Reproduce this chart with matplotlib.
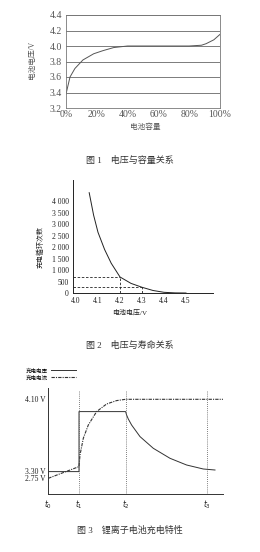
import matplotlib
matplotlib.use('Agg')
import matplotlib.pyplot as plt

plt.rcParams['font.family'] = ['Liberation Serif', 'Noto Sans CJK SC', 'DejaVu Sans']

# Fig 1: voltage vs capacity
cap_pct = [0, 2.6, 5.8, 11, 18, 24, 31, 40, 60, 80, 88, 91, 96, 100]
cap_volt = [3.38, 3.60, 3.71, 3.82, 3.90, 3.94, 3.98, 4.00, 4.00, 4.00, 4.01, 4.03, 4.08, 4.15]
cap_yticks = [3.2, 3.4, 3.6, 3.8, 4.0, 4.2, 4.4]
cap_xticks = [0, 20, 40, 60, 80, 100]

# Fig 2: voltage vs cycle life
life_volt = [4.06, 4.08, 4.10, 4.13, 4.16, 4.20, 4.25, 4.30, 4.35, 4.40, 4.45, 4.50]
life_cycles = [4380, 3400, 2650, 1900, 1300, 700, 420, 250, 110, 30, 5, 0]
life_yticks = [0, 500, 1000, 1500, 2000, 2500, 3000, 3500, 4000]
life_xticks = [4.0, 4.1, 4.2, 4.3, 4.4, 4.5]
marks = [(4.2, 700), (4.3, 250)]

# Fig 3: charging schematic (arbitrary units)
t_pos = [0, 30.7, 77.3, 159]
t_labels = ['$t_0$', '$t_1$', '$t_2$', '$t_3$']
v_pos = [16, 23.5, 95]
v_labels = ['2.75 V', '3.30 V', '4.10 V']
sol_x = [0, 30.7, 30.7, 77.3, 78.3, 80, 83.3, 91.7, 105, 121.7, 138.3, 155, 166.7]
sol_y = [22.7, 22.7, 82.7, 82.7, 79.3, 75.3, 69.3, 57.7, 46, 36, 29.3, 25.3, 24.3]
dd_x = [0, 30.7, 31.7, 35, 40, 48.3, 58.3, 68.3, 77.3, 175]
dd_y = [16, 27.7, 39.3, 56, 69.3, 82.7, 90.3, 93.7, 95, 95]

W, H = 260, 552
fig = plt.figure(figsize=(W / 100, H / 100), dpi=100)


def box(l, t, r, b):
    return [l / W, 1 - b / H, (r - l) / W, (b - t) / H]


# ---- chart 1
ax1 = fig.add_axes(box(66, 15, 220, 108))
ax1.plot(cap_pct, cap_volt, color='#555555', lw=0.7)
ax1.set_xlim(0, 100)
ax1.set_ylim(3.2, 4.4)
ax1.set_yticks(cap_yticks)
ax1.set_yticklabels(['%.1f' % v for v in cap_yticks])
ax1.set_xticks(cap_xticks)
ax1.set_xticklabels(['%d%%' % v for v in cap_xticks])
ax1.yaxis.grid(True, color='#666666', lw=0.6)
ax1.tick_params(length=0, labelsize=7, colors='#555555')
ax1.tick_params(axis='y', pad=3)
ax1.tick_params(axis='x', pad=1.5)
for s in ax1.spines.values():
    s.set_color('#777777')
    s.set_linewidth(0.6)
fig.text(32 / W, 1 - 60 / H, '电池电压/V', rotation=90, ha='center', va='center',
         fontsize=5.5, color='#555555')
fig.text(145 / W, 1 - 127 / H, '电池容量', ha='center', va='center', fontsize=5.5, color='#555555')
fig.text(0.5, 1 - 160 / H, '图 1    电压与容量关系', ha='center', va='center', fontsize=6.5,
         color='#333333')

# ---- chart 2
ax2 = fig.add_axes(box(73, 180, 213, 293))
ax2.plot(life_volt, life_cycles, color='#222222', lw=0.7)
for xv, yv in marks:
    ax2.plot([3.9864, xv], [yv, yv], color='#222222', lw=0.6, ls=(0, (3, 2)))
    ax2.plot([xv, xv], [0, yv], color='#222222', lw=0.6, ls=(0, (3, 2)))
ax2.set_xlim(3.9864, 4.6227)
ax2.set_ylim(0, 4934)
ax2.set_xticks(life_xticks)
ax2.set_xticklabels(['%.1f' % v for v in life_xticks])
ax2.set_yticks(life_yticks)
ax2.set_yticklabels([('%d' % v) if v < 1000 else '%d %03d' % (v // 1000, v % 1000)
                     for v in life_yticks])
ax2.tick_params(length=0, labelsize=5.5, colors='#222222')
ax2.tick_params(axis='y', pad=3)
ax2.tick_params(axis='x', pad=3)
ax2.spines['top'].set_visible(False)
ax2.spines['right'].set_visible(False)
for s in ['left', 'bottom']:
    ax2.spines[s].set_linewidth(0.7)
    ax2.spines[s].set_color('#222222')
fig.text(40 / W, 1 - 247 / H, '充电循环次数', rotation=90, ha='center', va='center',
         fontsize=5, color='#222222')
fig.text(130 / W, 1 - 313 / H, '电池电压/V', ha='center', va='center', fontsize=5, color='#222222')
fig.text(0.5, 1 - 345 / H, '图 2    电压与寿命关系', ha='center', va='center', fontsize=6.5,
         color='#333333')

# ---- chart 3
ax3 = fig.add_axes(box(48.3, 388, 223.3, 494.3))
l1, = ax3.plot(sol_x, sol_y, color='#333333', lw=0.7, label='充电电压')
l2, = ax3.plot(dd_x, dd_y, color='#333333', lw=0.8, ls=(0, (3, 1, 1, 1)), label='充电电流')
for tv in t_pos[1:]:
    ax3.plot([tv, tv], [0, 103], color='#555555', lw=0.6, ls=(0, (1, 1.5)))
ax3.set_xlim(0, 175)
ax3.set_ylim(0, 106.3)
ax3.set_xticks(t_pos)
ax3.set_xticklabels(t_labels)
ax3.set_yticks(v_pos)
ax3.set_yticklabels(v_labels)
ax3.tick_params(length=0, labelsize=5.5, colors='#222222')
ax3.tick_params(axis='y', pad=2)
ax3.tick_params(axis='x', pad=3)
ax3.spines['top'].set_visible(False)
ax3.spines['right'].set_visible(False)
for s in ['left', 'bottom']:
    ax3.spines[s].set_linewidth(0.7)
    ax3.spines[s].set_color('#333333')
ax3.legend(handles=[l1, l2], loc='upper left', bbox_to_anchor=(26 / W, 1 - 368 / H),
           bbox_transform=fig.transFigure, frameon=False, fontsize=4, markerfirst=False,
           handlelength=4.5, handletextpad=0.5, labelspacing=0.3, borderpad=0, borderaxespad=0)
fig.text(0.5, 1 - 530 / H, '图 3    锂离子电池充电特性', ha='center', va='center', fontsize=6.5,
         color='#333333')

fig.savefig('out.png', dpi=100)
